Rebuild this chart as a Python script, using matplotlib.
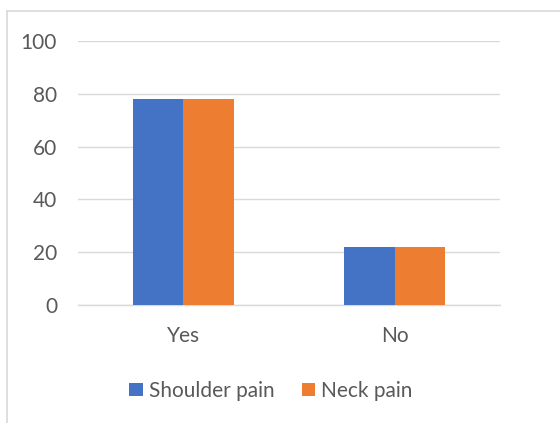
import numpy as np
import matplotlib.pyplot as plt
from matplotlib.lines import Line2D

categories = ["Yes", "No"]
shoulder_pain = [78, 22]
neck_pain = [78, 22]
y_ticks = [0, 20, 40, 60, 80, 100]

blue = "#4472C4"
orange = "#ED7D31"
text_col = "#595959"
grid_col = "#D9D9D9"

plt.rcParams["font.family"] = ["Lato", "DejaVu Sans"]

fig = plt.figure(figsize=(5.6, 4.23), dpi=100)
ax = fig.add_axes([0.139, 0.279, 0.754, 0.624])

x = np.arange(len(categories))
w = 0.24
ax.bar(x - w / 2, shoulder_pain, w, color=blue, label="Shoulder pain", zorder=3)
ax.bar(x + w / 2, neck_pain, w, color=orange, label="Neck pain", zorder=3)

ax.set_xlim(-0.5, 1.5)
ax.set_ylim(0, 100)
ax.set_yticks(y_ticks)
ax.set_xticks(x)
ax.set_xticklabels(categories)
ax.tick_params(length=0, labelsize=15, colors=text_col)
ax.tick_params(axis="y", pad=15)
ax.tick_params(axis="x", pad=15)
ax.yaxis.grid(True, color=grid_col, linewidth=1.0, zorder=0)
for s in ["top", "right", "left"]:
    ax.spines[s].set_visible(False)
ax.spines["bottom"].set_color(grid_col)
ax.spines["bottom"].set_linewidth(1.0)

leg = fig.legend(loc="center", bbox_to_anchor=(0.484, 0.076), ncol=2, frameon=False,
                 fontsize=15, handlelength=0.65, handleheight=0.65, handletextpad=0.3,
                 columnspacing=1.3)
for t in leg.get_texts():
    t.set_color(text_col)

# chart border (cut off at right and bottom)
fig.add_artist(Line2D([7 / 560, 7 / 560], [0, 1 - 11 / 423], color=grid_col, linewidth=1.2))
fig.add_artist(Line2D([7 / 560, 1], [1 - 11 / 423, 1 - 11 / 423], color=grid_col, linewidth=1.2))

fig.savefig("out.png", dpi=100)
